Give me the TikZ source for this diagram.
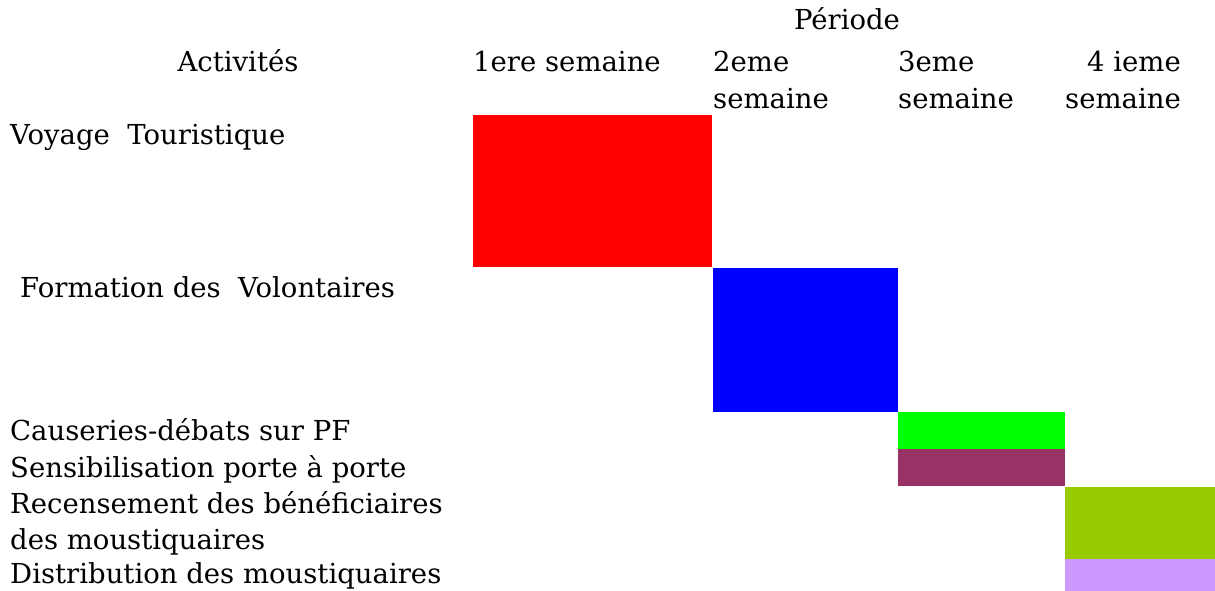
\documentclass[tikz,border=0pt]{standalone}
\usepackage{fontspec}
\setmainfont{DejaVu Serif}
\usepackage{tikz}
\usetikzlibrary{positioning}

\definecolor{maroon}{HTML}{993366}
\definecolor{lime}{HTML}{99CC00}
\definecolor{lavender}{HTML}{CC99FF}

\tikzset{
  lbl/.style={inner sep=0pt, anchor=base west, font=\fontsize{27.5}{33}\selectfont},
  bar/.style={draw=none, inner sep=0pt, anchor=north west}
}

\begin{document}
\begin{tikzpicture}[x=1pt, y=-1pt]
            \useasboundingbox (0,0) rectangle (1215,591);

            % en-tete
            \node[lbl, anchor=base] (periode) at (847, 30) {Période};
            \node[lbl, anchor=base] (activites) at (238, 72) {Activités};
            \node[lbl] (s1) at (473, 72) {1ere semaine};
            \node[lbl] (s2a) at (713, 72) {2eme};
            \node[lbl] (s2b) at (713, 109) {semaine};
            \node[lbl] (s3a) at (898, 72) {3eme};
            \node[lbl] (s3b) at (898, 109) {semaine};
            \node[lbl, anchor=base east] (s4a) at (1181, 72) {4 ieme};
            \node[lbl, anchor=base east] (s4b) at (1181, 109) {semaine};

            % activites
            \node[lbl] (voyage) at (10, 145) {Voyage\ \ Touristique};
            \node[lbl] (formation) at (20, 297) {Formation des\ \ Volontaires};
            \node[lbl] (causeries) at (10, 440) {Causeries-débats sur PF};
            \node[lbl] (sensib) at (10, 477) {Sensibilisation porte à porte};
            \node[lbl] (recens) at (10, 513) {Recensement des bénéficiaires};
            \node[lbl] (recensb) at (10, 549) {des moustiquaires};
            \node[lbl] (distrib) at (10, 583.5) {Distribution des moustiquaires};

            % barres
            \node[bar, fill=red, minimum width=239pt, minimum height=152pt] (b1) at (473, 115) {};
            \node[bar, fill=blue, minimum width=185pt, minimum height=144pt] (b2) at (b1.south east) {};
            \node[bar, fill=green, minimum width=167pt, minimum height=37pt] (b3) at (b2.south east) {};
            \node[bar, fill=maroon, minimum width=167pt, minimum height=37pt] (b4) at (b3.south west) {};
            \node[bar, fill=lime, minimum width=152pt, minimum height=72pt] (b5) at (b4.south east) {};
            \node[bar, fill=lavender, minimum width=152pt, minimum height=34pt] (b6) at (b5.south west) {};
        \end{tikzpicture}
\end{document}
